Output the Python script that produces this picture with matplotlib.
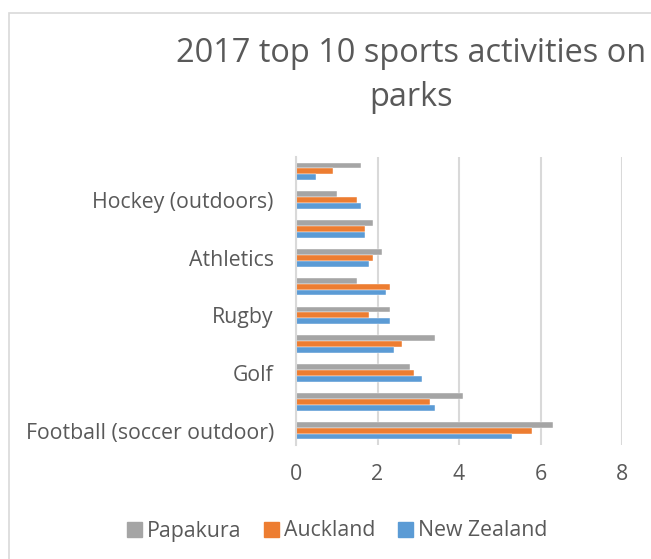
import matplotlib
matplotlib.use("Agg")
import matplotlib.pyplot as plt
import matplotlib.patches as mpatches
import numpy as np

plt.rcParams['font.family'] = ['Open Sans', 'DejaVu Sans']

# Categories from bottom to top (only every other label is shown in the source)
categories = ["Football (soccer outdoor)", "", "Golf", "", "Rugby", "",
              "Athletics", "", "Hockey (outdoors)", ""]
series_names = ["Papakura", "Auckland", "New Zealand"]
papakura = [6.3, 4.1, 2.8, 3.4, 2.3, 1.5, 2.1, 1.9, 1.0, 1.6]
auckland = [5.8, 3.3, 2.9, 2.6, 1.8, 2.3, 1.9, 1.7, 1.5, 0.9]
new_zealand = [5.3, 3.4, 3.1, 2.4, 2.3, 2.2, 1.8, 1.7, 1.6, 0.5]
xticks = [0, 2, 4, 6, 8]
colors = ["#a5a5a5", "#ed7d31", "#5b9bd5"]
text_color = "#595959"
grid_color = "#d9d9d9"

W, H = 651, 559
fig = plt.figure(figsize=(W / 100, H / 100), dpi=100)
ax = fig.add_axes([296 / W, 1 - 445 / H, (622 - 296) / W, (445 - 157) / H])

y = np.arange(len(categories))
h = 0.205
for vals, off, c, name in zip([papakura, auckland, new_zealand], [h, 0, -h], colors, series_names):
    ax.barh(y + off, vals, height=h, color=c, label=name, edgecolor='white', linewidth=0.3, zorder=3)

ax.set_xlim(0, 8)
ax.set_ylim(-0.5, len(categories) - 0.5)
ax.set_xticks(xticks)
ax.set_xticklabels([str(t) for t in xticks])
ax.set_yticks(y[::2])
ax.set_yticklabels([categories[i] for i in range(0, len(categories), 2)])

ax.grid(axis='x', color=grid_color, linewidth=1.5, zorder=0)
for s in ['top', 'right', 'bottom']:
    ax.spines[s].set_visible(False)
ax.spines['left'].set_color(grid_color)
ax.spines['left'].set_linewidth(1.5)
ax.spines['left'].set_zorder(4)
ax.tick_params(axis='x', length=0, pad=14, labelsize=15.3, labelcolor=text_color)
ax.tick_params(axis='y', length=0, pad=16, labelsize=15.3, labelcolor=text_color)

fig.text(411 / W, 1 - 54 / H, "2017 top 10 sports activities on", ha='center', va='center',
         fontsize=23.4, color=text_color)
fig.text(411 / W, 1 - 97 / H, "parks", ha='center', va='center',
         fontsize=23.4, color=text_color)

handles = [mpatches.Patch(color=c) for c in colors]
fig.legend(handles, series_names, loc='center', bbox_to_anchor=(337 / W, 1 - 531 / H),
           ncol=3, frameon=False, handlelength=0.7, handleheight=0.7, handletextpad=0.25,
           columnspacing=1.05, fontsize=15.3, labelcolor=text_color)

# chart-area border (cropped on right and bottom)
border = mpatches.Rectangle((8.5 / W, -0.1), 2, 1 - 13 / H + 0.1, transform=fig.transFigure,
                            fill=False, edgecolor=grid_color, linewidth=1.2, clip_on=False)
fig.patches.append(border)

fig.savefig("out.png", dpi=100)
